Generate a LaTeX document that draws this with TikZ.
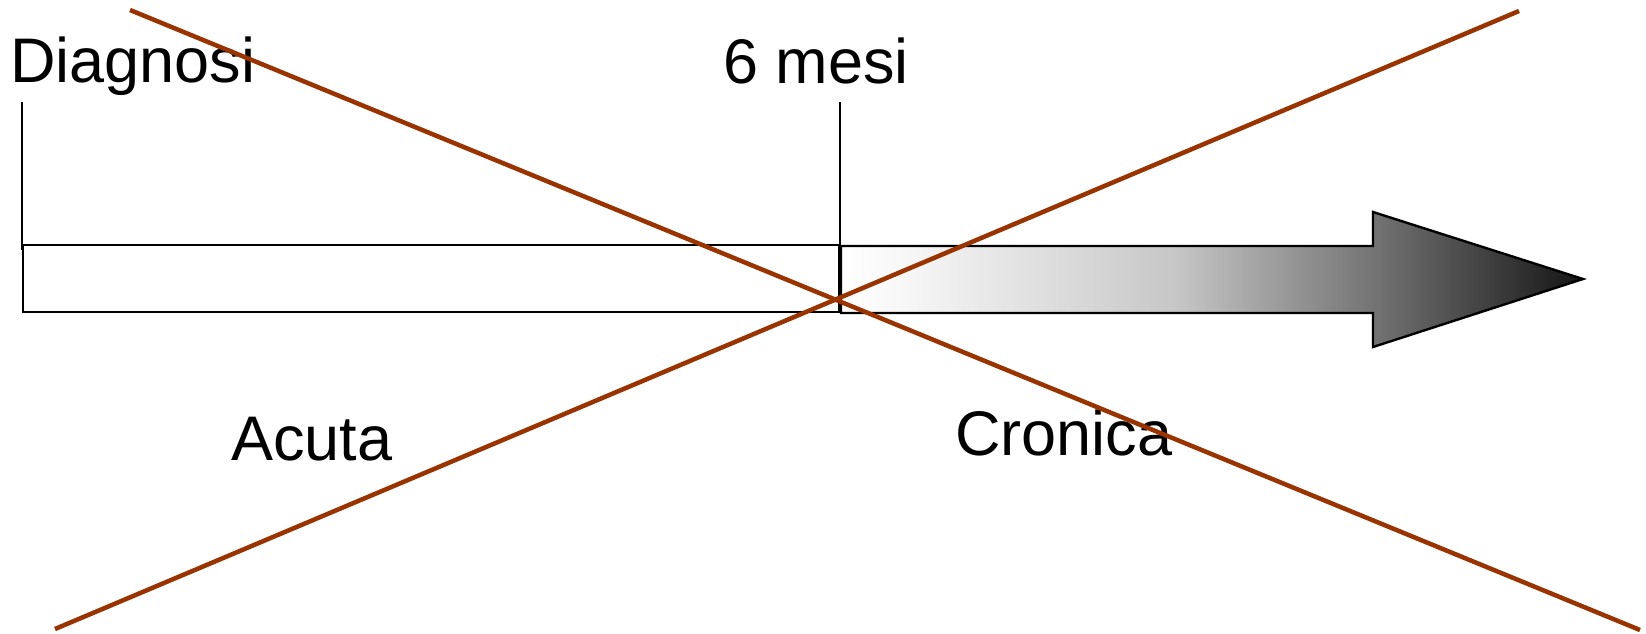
\documentclass[tikz,border=0pt]{standalone}
\usepackage{fontspec}
\setmainfont{Liberation Sans}
\definecolor{crossred}{RGB}{153,51,0}
\pgfdeclarehorizontalshading{chron}{100bp}{color(0bp)=(white); color(25bp)=(white); color(29bp)=(white!97!black); color(47.5bp)=(white!78!black); color(61bp)=(white!45!black); color(75bp)=(white!8!black); color(100bp)=(white!8!black)}
\begin{document}
\begin{tikzpicture}[x=1pt,y=-1pt,
  lbl/.style={anchor=base west,inner sep=0pt,font=\fontsize{63}{70}\selectfont},
  tick/.style={draw=black,line width=2.4pt},
  cross/.style={draw=crossred,line width=4.5pt}]
\useasboundingbox (0,0) rectangle (1646,634);
% left (acute) bar
\draw[line width=2.4pt] (23,245) rectangle (839,312);
% chronic arrow
\path[shading=chron,draw=black,line width=2.4pt]
  (841,246) -- (1373,246) -- (1373,212) -- (1583,279) -- (1373,347) -- (1373,313) -- (841,313) -- cycle;
% ticks
\coordinate (d1) at (22,102);
\coordinate (d2) at (22,250);
\coordinate (m1) at (840,102);
\coordinate (m2) at (840,312);
\draw[tick] (d1) -- (d2);
\draw[tick] (m1) -- (m2);
% labels
\node[lbl] (diag) at (10,82) {Diagnosi};
\node[lbl] (mesi) at (723,83) {6 mesi};
\node[lbl] (acuta) at (231,460) {Acuta};
\node[lbl] (cron) at (955,455) {Cronica};
% cross
\coordinate (a1) at (130,10);
\coordinate (a2) at (1640,630);
\coordinate (b1) at (55,629);
\coordinate (b2) at (1519,11);
\draw[cross] (a1) -- (a2);
\draw[cross] (b1) -- (b2);
\end{tikzpicture}
\end{document}
